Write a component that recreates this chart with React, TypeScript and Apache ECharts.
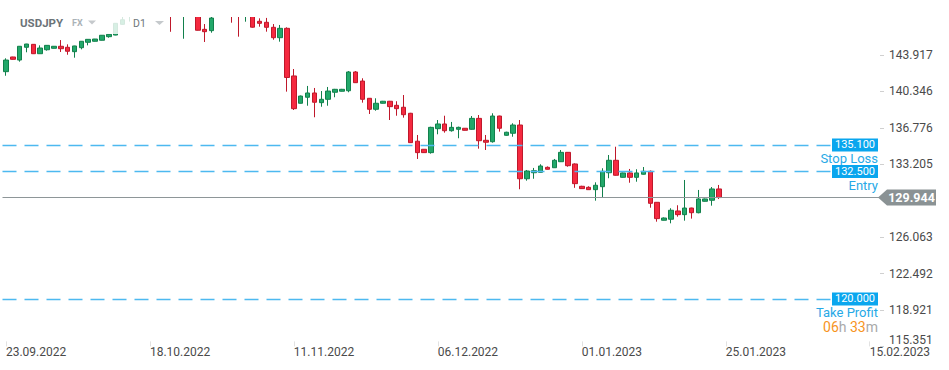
import React, { useEffect, useRef } from 'react';
import * as echarts from 'echarts';

const instrument = 'USDJPY';
const market = 'FX';
const timeframe = 'D1';

// Daily candles, each [open, close, low, high]
const candles: number[][] = [
  [142.29, 143.43, 141.89, 143.60],
  [143.73, 143.50, 143.48, 143.75],
  [143.43, 144.78, 143.27, 144.80],
  [144.68, 145.00, 144.19, 145.02],
  [144.97, 144.05, 144.02, 145.00],
  [144.05, 144.61, 144.03, 144.87],
  [144.44, 144.87, 144.35, 144.89],
  [144.58, 144.78, 144.56, 144.80],
  [144.78, 144.54, 144.22, 145.39],
  [144.68, 144.29, 143.95, 144.97],
  [144.25, 144.81, 143.66, 144.83],
  [144.64, 145.27, 144.48, 145.29],
  [145.17, 145.46, 144.87, 145.48],
  [145.27, 145.49, 145.25, 145.50],
  [145.37, 145.86, 145.35, 145.88],
  [145.72, 145.95, 145.62, 145.97],
  [145.88, 147.03, 145.86, 147.05],
  [146.93, 147.38, 146.90, 147.68],
  [147.70, 148.70, 147.20, 148.86],
  [148.60, 148.75, 148.55, 148.80],
  [148.70, 149.00, 148.40, 149.10],
  [149.00, 149.20, 148.60, 149.30],
  [149.20, 149.90, 149.00, 149.95],
  [149.90, 150.20, 149.70, 150.30],
  [150.20, 147.70, 146.20, 151.90],
  [147.90, 148.40, 147.75, 148.90],
  [148.40, 149.00, 145.52, 149.70],
  [149.00, 147.90, 147.80, 149.10],
  [147.90, 146.35, 146.33, 148.00],
  [146.44, 146.21, 145.20, 146.96],
  [146.31, 147.55, 146.11, 147.87],
  [147.70, 147.80, 147.70, 147.90],
  [147.80, 148.70, 147.75, 148.80],
  [148.70, 148.20, 147.09, 148.80],
  [148.20, 147.80, 145.72, 148.30],
  [147.80, 148.20, 147.19, 148.40],
  [148.20, 146.65, 146.60, 148.40],
  [147.23, 147.03, 146.70, 147.52],
  [147.13, 146.64, 146.21, 147.56],
  [146.64, 145.62, 145.42, 146.96],
  [145.62, 146.54, 145.23, 146.87],
  [146.54, 141.72, 140.33, 146.64],
  [141.87, 138.66, 138.53, 142.55],
  [139.19, 139.90, 139.17, 139.95],
  [139.78, 140.20, 138.95, 140.89],
  [140.20, 139.29, 137.82, 140.69],
  [139.25, 139.58, 138.85, 140.39],
  [139.58, 140.39, 138.95, 140.79],
  [140.27, 140.56, 139.78, 140.60],
  [140.37, 140.56, 140.35, 140.60],
  [140.42, 142.26, 140.27, 142.35],
  [142.26, 141.21, 141.19, 142.35],
  [141.37, 139.58, 139.25, 141.64],
  [139.68, 138.60, 138.14, 139.70],
  [138.60, 139.19, 138.46, 139.68],
  [139.19, 139.39, 139.17, 139.42],
  [139.39, 138.86, 137.55, 139.42],
  [138.99, 138.66, 137.97, 139.39],
  [138.80, 138.07, 137.78, 140.00],
  [138.21, 135.33, 135.30, 138.25],
  [135.47, 134.35, 133.73, 136.08],
  [134.68, 134.35, 134.33, 134.70],
  [134.35, 136.83, 134.25, 136.89],
  [136.70, 137.16, 136.15, 137.55],
  [137.16, 136.50, 136.31, 137.97],
  [136.50, 136.83, 136.41, 137.36],
  [136.64, 136.83, 135.76, 136.90],
  [136.74, 136.54, 136.52, 136.76],
  [136.64, 137.71, 136.60, 137.94],
  [137.71, 135.52, 134.74, 138.04],
  [135.56, 135.37, 134.61, 136.08],
  [135.42, 137.94, 135.33, 138.21],
  [137.94, 136.74, 136.41, 137.97],
  [136.05, 136.35, 136.00, 136.40],
  [136.25, 137.06, 135.91, 137.23],
  [137.06, 131.79, 130.76, 137.55],
  [131.79, 132.55, 131.60, 132.65],
  [132.38, 132.58, 131.79, 132.85],
  [132.42, 133.04, 132.40, 133.21],
  [132.91, 132.72, 132.70, 133.00],
  [132.87, 133.60, 132.85, 133.73],
  [133.46, 134.38, 133.43, 134.61],
  [134.38, 133.07, 132.97, 134.40],
  [133.24, 131.31, 130.90, 133.30],
  [131.05, 130.82, 130.80, 131.10],
  [130.95, 130.72, 130.70, 131.05],
  [130.72, 131.15, 129.64, 131.44],
  [131.01, 132.52, 130.00, 132.82],
  [132.38, 133.60, 131.84, 134.12],
  [133.60, 132.13, 132.10, 134.93],
  [131.93, 132.36, 131.90, 132.40],
  [132.36, 131.93, 131.40, 132.75],
  [131.93, 132.36, 131.50, 132.72],
  [132.23, 132.52, 132.20, 132.94],
  [132.52, 129.38, 128.95, 132.60],
  [129.48, 127.88, 127.58, 129.50],
  [127.72, 127.94, 127.70, 128.00],
  [127.82, 128.70, 127.42, 128.90],
  [128.63, 128.27, 128.07, 129.19],
  [128.27, 128.92, 127.68, 131.67],
  [128.92, 128.46, 127.88, 128.95],
  [128.46, 129.81, 128.40, 130.69],
  [129.58, 129.81, 129.55, 129.85],
  [129.68, 130.79, 129.15, 130.98],
  [130.79, 129.944, 129.80, 131.18],
];

const xTickLabels = ['23.09.2022', '18.10.2022', '11.11.2022', '06.12.2022', '01.01.2023', '25.01.2023', '15.02.2023'];
const barsPerLabel = 21;
const totalSlots = 128;

const yTickLabels = ['115.351', '118.921', '122.492', '126.063', '133.205', '136.776', '140.346', '143.917'];
const yMin = 115.351;
const yMax = 147.65;

const levelValues = [135.1, 132.5, 120.0];
const levelNames = ['Stop Loss', 'Entry', 'Take Profit'];
const timerParts = ['06', 'h', '33', 'm'];
const currentPrice = 129.944;

export default function App() {
  const ref = useRef<HTMLDivElement>(null);

  useEffect(() => {
    document.body.style.margin = '0';
    const chart = echarts.init(ref.current!, null, { renderer: 'svg' });
    const font = 'Roboto, "Noto Sans", sans-serif';
    const categories = Array.from({ length: totalSlots }, (_, i) =>
      i % barsPerLabel === 0 && xTickLabels[i / barsPerLabel] ? xTickLabels[i / barsPerLabel] : `_${i}`
    );
    const showCat = (_i: number, v: string) => !String(v).startsWith('_');
    const yValues = yTickLabels.map(Number);
    const blue = '#0aa6ee';
    const levelBlue = '#27a9e6';

    const levelLines = levelValues.map((v, k) => {
      let text = `{box|${v.toFixed(3)}}\n{name|${levelNames[k]}}`;
      if (k === 2) {
        text += `\n{o|${timerParts[0]}}{g|${timerParts[1]} }{o|${timerParts[2]}}{g|${timerParts[3]}}`;
      }
      return {
        yAxis: v,
        lineStyle: { type: [14, 8], color: '#4db9f0', width: 1.4 },
        label: { show: true, formatter: text },
      };
    });

    chart.setOption({
      animation: false,
      grid: { left: 2.5, right: 69, top: 17, bottom: 23.6, containLabel: false },
      xAxis: {
        type: 'category',
        data: categories,
        boundaryGap: true,
        axisLine: { show: false },
        axisTick: {
          show: true, inside: true, length: 5, alignWithLabel: true,
          interval: showCat, lineStyle: { color: '#e2e2e2' },
        },
        axisLabel: {
          interval: showCat, align: 'left', margin: 0,
          color: '#4a4a4a', fontSize: 12, fontFamily: font,
        },
        splitLine: { show: false },
      },
      yAxis: {
        type: 'value',
        position: 'right',
        min: yMin,
        max: yMax,
        axisLine: { show: false },
        axisTick: { show: true, length: 4, customValues: yValues, lineStyle: { color: '#d0d0d0' } },
        axisLabel: {
          customValues: yValues,
          margin: 9,
          color: '#4a4a4a',
          fontSize: 12,
          fontFamily: font,
          formatter: (v: number) => {
            const s = v.toFixed(3);
            return Math.abs(v - yMin) < 1e-6 ? `{low|${s}}` : s;
          },
          rich: {
            low: { padding: [0, 0, 13, 0], color: '#4a4a4a', fontSize: 12, fontFamily: font },
          },
        },
        splitLine: { show: false },
      },
      series: [
        {
          type: 'candlestick',
          data: candles,
          barWidth: 5,
          clip: true,
          itemStyle: {
            color: '#22a86a',
            color0: '#f5293f',
            borderColor: '#12804c',
            borderColor0: '#bf182b',
            borderWidth: 1,
          },
          markLine: {
            silent: true,
            symbol: ['none', 'none'],
            animation: false,
            label: {
              show: true,
              position: 'insideEndBottom',
              distance: [2, -7],
              fontFamily: font,
              rich: {
                box: { backgroundColor: blue, color: '#fff', fontSize: 11, padding: [1, 3, 1, 3], lineHeight: 14, fontFamily: font },
                name: { color: levelBlue, fontSize: 13, lineHeight: 14, fontFamily: font },
                o: { color: '#f7941d', fontSize: 14, lineHeight: 14, fontFamily: font },
                g: { color: '#a9a9a9', fontSize: 14, lineHeight: 14, fontFamily: font },
              },
            },
            data: [
              ...levelLines,
              {
                yAxis: currentPrice,
                lineStyle: { type: 'solid', color: '#8e9698', width: 1 },
                label: { show: false },
              },
            ],
          },
        },
      ],
    });

    const py = chart.convertToPixel({ yAxisIndex: 0 }, currentPrice) as number;
    const topY = chart.convertToPixel({ yAxisIndex: 0 }, yMax) as number;
    chart.setOption({
      graphic: [
        // clip candles that rise above the plot top
        { type: 'rect', z: 99, shape: { x: 0, y: 0, width: 882, height: topY }, style: { fill: '#ffffff' } },
        { type: 'rect', z: 100, shape: { x: 0, y: 0, width: 166, height: 34 }, style: { fill: 'rgba(255,255,255,0.82)' } },
        { type: 'text', z: 101, x: 20, y: 22.5, style: { text: instrument, fill: '#6b7378', font: `bold 11.5px ${font}`, verticalAlign: 'middle' } },
        { type: 'text', z: 101, x: 72, y: 23, style: { text: market, fill: '#abb3b8', font: `bold 9px ${font}`, verticalAlign: 'middle' } },
        { type: 'polygon', z: 101, shape: { points: [[88, 20.5], [96, 20.5], [92, 24.5]] }, style: { fill: '#c5c9cc' } },
        { type: 'text', z: 101, x: 133, y: 23.5, style: { text: timeframe, fill: '#6e767a', font: `10.5px ${font}`, verticalAlign: 'middle' } },
        { type: 'polygon', z: 101, shape: { points: [[155, 21], [164, 21], [159.5, 25]] }, style: { fill: '#c5c9cc' } },
        {
          type: 'polygon', z: 100,
          shape: { points: [[878, py], [887, py - 8], [936, py - 8], [936, py + 8], [887, py + 8]] },
          style: { fill: '#8a9294' },
        },
        {
          type: 'text', z: 101, x: 911.5, y: py,
          style: { text: currentPrice.toFixed(3), fill: '#ffffff', font: `bold 12.5px ${font}`, align: 'center', verticalAlign: 'middle' },
        },
      ],
    });

    return () => chart.dispose();
  }, []);

  return <div ref={ref} style={{ width: 949, height: 370 }} />;
}
